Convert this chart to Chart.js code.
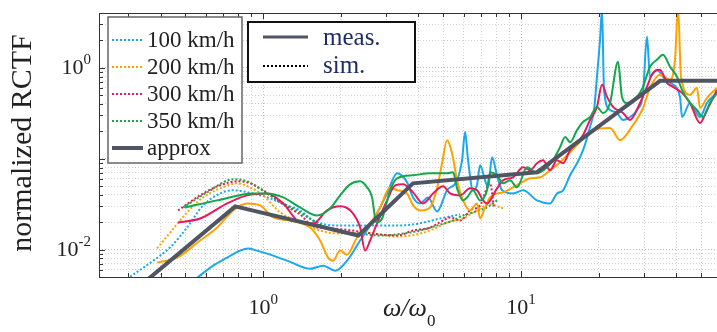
<!DOCTYPE html>
<html>
<head>
<meta charset="utf-8">
<script src="https://cdn.jsdelivr.net/npm/chart.js@4.4.0/dist/chart.umd.min.js"></script>
<style>
  html, body { margin: 0; padding: 0; background: #fff; }
  #wrap { width: 717px; height: 332px; }
</style>
</head>
<body>
<div id="wrap"><canvas id="chart" width="717" height="332"></canvas></div>
<script>
// ---- data (omega / omega_0, normalized RCTF) ----
const speeds = ["100 km/h", "200 km/h", "300 km/h", "350 km/h"];

const approxOmega = [0.33, 0.779, 2.34, 3.81, 11.5, 34.6, 58];
const approxRctf = [0.0039, 0.0299, 0.0143, 0.0536, 0.0709, 0.718, 0.718];

const sim100Omega = [0.305, 0.375, 0.436, 0.507, 0.585, 0.681, 0.765, 0.914, 1.064, 1.238, 1.391, 1.562, 1.988, 2.441, 3.106, 3.813, 4.853, 5.801];
const sim100Rctf = [0.00504, 0.00756, 0.0106, 0.0175, 0.0306, 0.0415, 0.0449, 0.0415, 0.0366, 0.0306, 0.0270, 0.0209, 0.0184, 0.0184, 0.0184, 0.0189, 0.0220, 0.0244];

const sim200Omega = [0.388, 0.436, 0.507, 0.585, 0.681, 0.792, 0.890, 1.000, 1.164, 1.391, 1.663, 1.988, 2.441, 3.305, 4.059, 4.722, 5.164, 5.958, 6.749, 7.582, 8.514];
const sim200Rctf = [0.0103, 0.0154, 0.0257, 0.0375, 0.0472, 0.0536, 0.0484, 0.0395, 0.0257, 0.0199, 0.0162, 0.0150, 0.0154, 0.0139, 0.0150, 0.0175, 0.0199, 0.0220, 0.0270, 0.0314, 0.0284];

const sim300Omega = [0.468, 0.585, 0.681, 0.792, 0.866, 0.974, 1.132, 1.307, 1.391, 1.562, 1.818, 2.115, 2.668, 3.305, 3.813, 4.438, 4.984, 5.306, 5.801, 6.343, 6.935, 7.582, 7.855];
const sim300Rctf = [0.0270, 0.0415, 0.0509, 0.0564, 0.0550, 0.0472, 0.0348, 0.0270, 0.0244, 0.0180, 0.0171, 0.0165, 0.0150, 0.0143, 0.0162, 0.0175, 0.0209, 0.0226, 0.0209, 0.0270, 0.0306, 0.0536, 0.0284];

const sim350Omega = [0.490, 0.606, 0.765, 0.866, 1.036, 1.238, 1.391, 1.562, 1.988, 2.313, 2.841, 3.488, 4.059, 4.722, 5.449, 5.958, 6.514, 7.379, 8.067];
const sim350Rctf = [0.0291, 0.0426, 0.0593, 0.0564, 0.0415, 0.0306, 0.0257, 0.0209, 0.0154, 0.0150, 0.0143, 0.0150, 0.0162, 0.0184, 0.0209, 0.0238, 0.0257, 0.0291, 0.0348];

const meas100Omega = [0.555, 0.640, 0.725, 0.814, 0.875, 0.947, 1.036, 1.238, 1.521, 1.708, 1.901, 2.115, 2.377, 2.598, 2.764, 3.023, 3.305, 3.613, 3.813, 4.059, 4.359, 4.722, 5.164, 5.646, 5.905, 6.066, 6.230, 6.514, 6.749, 6.935, 7.251, 7.448, 7.718, 8.067, 8.439, 9.309, 10.18, 11.53, 12.95, 13.78, 14.55, 15.49, 16.48, 17.39, 18.51, 19.18, 19.69, 20.24, 20.60, 20.97, 22.13, 23.55, 24.84, 26.45, 28.14, 29.70, 30.77, 31.62, 33.64, 35.50, 37.80, 41.33, 42.07, 45.19, 49.41, 52.57, 57.51];
const meas100Rctf = [0.00491, 0.00666, 0.00816, 0.00975, 0.0103, 0.00975, 0.00903, 0.00756, 0.00617, 0.00666, 0.00586, 0.00756, 0.0126, 0.0184, 0.0250, 0.0415, 0.0691, 0.0550, 0.0375, 0.0322, 0.0375, 0.0263, 0.0449, 0.0578, 0.0962, 0.196, 0.0962, 0.0449, 0.0509, 0.0847, 0.0578, 0.0484, 0.104, 0.0657, 0.0449, 0.0415, 0.0449, 0.0348, 0.0322, 0.0415, 0.0449, 0.0657, 0.0891, 0.124, 0.223, 0.343, 0.795, 2.04, 4.37, 0.571, 0.343, 0.318, 0.266, 0.287, 0.343, 0.529, 2.20, 0.795, 0.950, 0.795, 0.683, 0.478, 0.287, 0.410, 0.287, 0.410, 0.529];

const meas200Omega = [0.388, 0.464, 0.570, 0.663, 0.765, 0.866, 0.974, 1.093, 1.273, 1.521, 1.663, 1.786, 1.867, 1.988, 2.115, 2.313, 2.529, 2.841, 3.106, 3.305, 3.613, 3.813, 4.059, 4.438, 4.722, 4.940, 5.164, 5.401, 5.646, 5.958, 6.343, 6.749, 6.935, 7.251, 7.582, 8.067, 8.514, 9.911, 10.84, 11.85, 12.95, 14.17, 15.49, 16.48, 19.01, 22.13, 24.19, 27.16, 29.70, 31.62, 34.57, 37.80, 39.52, 40.60, 41.70, 45.19, 48.08, 49.41, 52.57, 57.51];
const meas200Rctf = [0.00719, 0.00816, 0.0126, 0.0175, 0.0270, 0.0322, 0.0306, 0.0226, 0.0209, 0.0175, 0.0126, 0.00816, 0.00756, 0.00975, 0.00881, 0.0136, 0.0175, 0.0291, 0.0484, 0.0449, 0.0415, 0.0306, 0.0270, 0.0291, 0.0472, 0.0891, 0.160, 0.115, 0.0578, 0.0348, 0.0270, 0.0322, 0.0220, 0.0291, 0.0375, 0.0415, 0.0426, 0.0536, 0.0608, 0.0624, 0.0746, 0.0914, 0.118, 0.141, 0.206, 0.217, 0.160, 0.234, 0.361, 0.601, 0.837, 0.737, 1.226, 4.6, 0.795, 0.503, 0.601, 0.361, 0.466, 0.601];

const meas300Omega = [0.468, 0.570, 0.725, 0.866, 1.036, 1.196, 1.391, 1.562, 1.769, 1.988, 2.213, 2.377, 2.485, 2.598, 2.764, 3.023, 3.248, 3.488, 3.813, 4.169, 4.558, 4.984, 5.306, 5.801, 6.343, 6.749, 7.122, 7.379, 8.067, 8.514, 9.309, 10.18, 10.84, 11.53, 12.17, 12.95, 13.78, 14.55, 15.49, 16.48, 17.39, 18.51, 19.69, 20.60, 21.54, 22.73, 24.84, 26.45, 28.92, 30.77, 32.47, 34.57, 36.78, 38.82, 42.07, 45.19, 49.41, 52.57, 57.51];
const meas300Rctf = [0.0199, 0.0220, 0.0322, 0.0395, 0.0415, 0.0322, 0.0199, 0.0194, 0.0270, 0.0299, 0.0257, 0.0175, 0.00975, 0.0126, 0.0194, 0.0348, 0.0509, 0.0522, 0.0426, 0.0322, 0.0415, 0.0497, 0.0415, 0.0395, 0.0472, 0.0449, 0.0348, 0.0322, 0.0472, 0.0578, 0.0624, 0.0805, 0.0746, 0.0891, 0.0962, 0.0746, 0.0962, 0.0891, 0.124, 0.148, 0.182, 0.266, 0.371, 0.649, 0.478, 0.371, 0.318, 0.266, 0.410, 0.617, 0.881, 0.950, 0.683, 0.617, 0.529, 0.410, 0.247, 0.343, 0.571];

const meas350Omega = [0.498, 0.663, 0.914, 1.036, 1.196, 1.391, 1.618, 1.818, 1.988, 2.174, 2.377, 2.529, 2.645, 2.741, 2.892, 3.106, 3.305, 3.813, 4.438, 5.164, 5.449, 5.646, 5.958, 6.172, 6.514, 6.935, 7.379, 7.582, 8.067, 8.514, 9.064, 9.644, 10.55, 11.53, 12.61, 13.30, 14.17, 14.82, 15.49, 16.48, 17.39, 18.51, 19.69, 20.79, 22.13, 23.77, 24.62, 25.74, 28.14, 29.70, 31.62, 33.64, 35.50, 37.80, 40.22, 42.07, 45.19, 48.08, 50.74, 54.02, 57.51];
const meas350Rctf = [0.0291, 0.0348, 0.0415, 0.0415, 0.0375, 0.0291, 0.0238, 0.0284, 0.0395, 0.0522, 0.0564, 0.0484, 0.0375, 0.0199, 0.0220, 0.0449, 0.0608, 0.0657, 0.0691, 0.0691, 0.0709, 0.0472, 0.0348, 0.0375, 0.0449, 0.0348, 0.0449, 0.0709, 0.0657, 0.0536, 0.0578, 0.0484, 0.0805, 0.0691, 0.0805, 0.0962, 0.134, 0.173, 0.152, 0.206, 0.253, 0.287, 0.371, 0.318, 0.410, 1.165, 0.478, 0.410, 0.478, 0.617, 1.026, 1.226, 1.39, 1.026, 0.795, 0.571, 0.410, 0.343, 0.287, 0.410, 0.529];

// axis ticks (minor grid at every 1..9 step, labels only on decades)
const xTicks = [0.3, 0.4, 0.5, 0.6, 0.7, 0.8, 0.9, 1, 2, 3, 4, 5, 6, 7, 8, 9, 10, 20, 30, 40, 50];
const yTicks = [0.005, 0.006, 0.007, 0.008, 0.009, 0.01, 0.02, 0.03, 0.04, 0.05, 0.06, 0.07, 0.08, 0.09,
  0.1, 0.2, 0.3, 0.4, 0.5, 0.6, 0.7, 0.8, 0.9, 1, 2, 3, 4];
const xMajor = [1, 10];
const yMajor = [0.01, 1];

// ---- styling ----
const COLORS = ["#1aa7ee", "#ffa200", "#e8185a", "#14a64a"];
const APPROX = "#4f5562";
const SERIF = '"Liberation Serif", "Times New Roman", serif';

function pts(w, r) {
  return w.map(function (x, i) { return { x: x, y: r[i] }; });
}

const measSets = [[meas100Omega, meas100Rctf], [meas200Omega, meas200Rctf], [meas300Omega, meas300Rctf], [meas350Omega, meas350Rctf]];
const simSets = [[sim100Omega, sim100Rctf], [sim200Omega, sim200Rctf], [sim300Omega, sim300Rctf], [sim350Omega, sim350Rctf]];

const datasets = [{
  label: "approx",
  data: pts(approxOmega, approxRctf),
  borderColor: APPROX,
  borderWidth: 4,
  pointRadius: 0,
  tension: 0,
  order: 0
}];
measSets.forEach(function (s, i) {
  datasets.push({
    label: speeds[i] + " meas.",
    data: pts(s[0], s[1]),
    borderColor: COLORS[i],
    borderWidth: 2,
    pointRadius: 0,
    cubicInterpolationMode: "monotone",
    order: 4 - i
  });
});
simSets.forEach(function (s, i) {
  datasets.push({
    label: speeds[i] + " sim.",
    data: pts(s[0], s[1]),
    borderColor: COLORS[i],
    borderWidth: 2,
    borderDash: [2, 2],
    pointRadius: 0,
    cubicInterpolationMode: "monotone",
    order: 10 - i
  });
});

function isDecade(v) {
  const l = Math.log10(v);
  return Math.abs(l - Math.round(l)) < 1e-6;
}

function powLabel(ctx, exp, x, y, align) {
  ctx.font = "22px " + SERIF;
  const bw = ctx.measureText("10").width;
  ctx.font = "15px " + SERIF;
  const ew = ctx.measureText(exp).width;
  const left = align === "right" ? x - bw - ew : x - (bw + ew) / 2;
  ctx.textAlign = "left";
  ctx.textBaseline = "alphabetic";
  ctx.fillStyle = "#222";
  ctx.font = "22px " + SERIF;
  ctx.fillText("10", left, y);
  ctx.font = "15px " + SERIF;
  ctx.fillText(exp, left + bw, y - 10);
}

const decorPlugin = {
  id: "decor",
  afterDatasetsDraw(chart) {
    const ctx = chart.ctx;
    const a = chart.chartArea;
    const xs = chart.scales.x, ys = chart.scales.y;
    ctx.save();
    ctx.strokeStyle = "#333";
    ctx.lineWidth = 1;
    // frame (right side runs past the picture)
    ctx.beginPath();
    ctx.moveTo(a.right + 2, a.top + 0.5);
    ctx.lineTo(a.left + 0.5, a.top + 0.5);
    ctx.lineTo(a.left + 0.5, a.bottom + 0.5);
    ctx.lineTo(a.right + 2, a.bottom + 0.5);
    ctx.stroke();
    // inward tick marks
    ctx.beginPath();
    xTicks.forEach(function (v) {
      const px = Math.round(xs.getPixelForValue(v)) + 0.5;
      const len = isDecade(v) ? 6 : 4;
      ctx.moveTo(px, a.bottom); ctx.lineTo(px, a.bottom - len);
      ctx.moveTo(px, a.top); ctx.lineTo(px, a.top + len);
    });
    yTicks.forEach(function (v) {
      const py = Math.round(ys.getPixelForValue(v)) + 0.5;
      const len = isDecade(v) ? 6 : 4;
      ctx.moveTo(a.left, py); ctx.lineTo(a.left + len, py);
    });
    ctx.stroke();
    // tick labels
    xMajor.forEach(function (v) {
      powLabel(ctx, String(Math.round(Math.log10(v))), xs.getPixelForValue(v), 314, "center");
    });
    yMajor.forEach(function (v) {
      powLabel(ctx, String(Math.round(Math.log10(v))), 91, ys.getPixelForValue(v) + 6, "right");
    });
    // axis titles
    ctx.fillStyle = "#222";
    ctx.font = "italic 26px " + SERIF;
    ctx.textAlign = "left";
    ctx.fillText("\u03c9/\u03c9", 383, 316);
    const tw = ctx.measureText("\u03c9/\u03c9").width;
    ctx.font = "17px " + SERIF;
    ctx.fillText("0", 383 + tw, 326);
    ctx.translate(31, 143);
    ctx.rotate(-Math.PI / 2);
    ctx.font = "30px " + SERIF;
    ctx.textAlign = "center";
    ctx.fillText("normalized RCTF", 0, 0);
    ctx.restore();
  },
  afterDraw(chart) {
    const ctx = chart.ctx;
    ctx.save();
    // speed legend
    ctx.fillStyle = "#fff";
    ctx.fillRect(108, 17, 134, 146);
    ctx.strokeStyle = "#666";
    ctx.lineWidth = 1.5;
    ctx.strokeRect(108, 17, 134, 146);
    ctx.font = "23px " + SERIF;
    ctx.textBaseline = "middle";
    ctx.textAlign = "left";
    const rows = speeds.concat(["approx"]);
    rows.forEach(function (t, i) {
      const y = 40 + i * 27;
      ctx.beginPath();
      if (i < 4) {
        ctx.strokeStyle = COLORS[i];
        ctx.lineWidth = 2;
        ctx.setLineDash([2, 2]);
      } else {
        ctx.strokeStyle = APPROX;
        ctx.lineWidth = 4;
        ctx.setLineDash([]);
      }
      ctx.moveTo(112, y); ctx.lineTo(143, y);
      ctx.stroke();
      ctx.fillStyle = "#222";
      ctx.fillText(t, 147, y + 1);
    });
    // meas./sim. legend
    ctx.setLineDash([]);
    ctx.fillStyle = "#fff";
    ctx.fillRect(248, 22, 167, 60);
    ctx.strokeStyle = "#111";
    ctx.lineWidth = 2;
    ctx.strokeRect(248, 22, 167, 60);
    ctx.beginPath();
    ctx.strokeStyle = APPROX;
    ctx.lineWidth = 3;
    ctx.moveTo(263, 37); ctx.lineTo(308, 37);
    ctx.stroke();
    ctx.beginPath();
    ctx.strokeStyle = "#000";
    ctx.lineWidth = 2;
    ctx.setLineDash([2, 2]);
    ctx.moveTo(263, 66); ctx.lineTo(308, 66);
    ctx.stroke();
    ctx.setLineDash([]);
    ctx.fillStyle = "#1c2d66";
    ctx.font = "25px " + SERIF;
    ctx.fillText("meas.", 323, 38);
    ctx.fillText("sim.", 323, 66);
    ctx.restore();
  }
};

function gridColor(c) {
  return c.tick && isDecade(c.tick.value) ? "#b8b8b8" : "#d2d2d2";
}

new Chart(document.getElementById("chart"), {
  type: "line",
  data: { datasets: datasets },
  options: {
    responsive: false,
    animation: false,
    devicePixelRatio: 1,
    layout: { padding: { top: 13, right: 0, left: 0, bottom: 0 } },
    plugins: { legend: { display: false }, tooltip: { enabled: false } },
    scales: {
      x: {
        type: "logarithmic",
        min: 0.231,
        max: 57.5,
        afterBuildTicks: function (s) { s.ticks = xTicks.map(function (v) { return { value: v }; }); },
        afterFit: function (s) { s.height = 55; },
        ticks: { display: false },
        grid: { color: gridColor, drawTicks: false, lineWidth: 1 },
        border: { display: false, dash: [1, 2] }
      },
      y: {
        type: "logarithmic",
        min: 0.005,
        max: 4,
        afterBuildTicks: function (s) { s.ticks = yTicks.map(function (v) { return { value: v }; }); },
        afterFit: function (s) { s.width = 99; },
        ticks: { display: false },
        grid: { color: gridColor, drawTicks: false, lineWidth: 1 },
        border: { display: false, dash: [1, 2] }
      }
    }
  },
  plugins: [decorPlugin]
});
</script>
</body>
</html>
